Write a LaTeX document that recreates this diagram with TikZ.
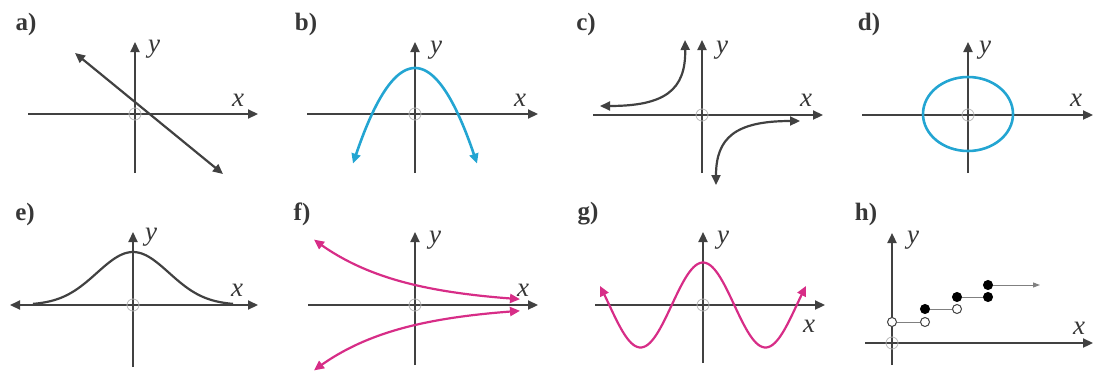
\documentclass[tikz,border=0pt]{standalone}
\usepackage{fontspec}
\setmainfont{Liberation Serif}
\usetikzlibrary{arrows.meta}
\definecolor{axisgray}{RGB}{65,65,65}
\definecolor{labgray}{RGB}{55,55,55}
\definecolor{cyanc}{RGB}{35,165,210}
\definecolor{pinkc}{RGB}{215,45,135}
\begin{document}
\begin{tikzpicture}[x=1pt,y=-1pt,
  tip/.style={-{Triangle[length=10pt,width=9pt]}},
  dtip/.style={{Triangle[length=10pt,width=9pt]}-{Triangle[length=10pt,width=9pt]}},
  axisline/.style={draw=axisgray, line width=2.2pt},
  curveblack/.style={draw=axisgray, line width=2.2pt},
  curvecyan/.style={draw=cyanc, line width=2.6pt},
  curvepink/.style={draw=pinkc, line width=2.2pt},
  orig/.style={draw=gray!55, line width=0.8pt, circle, minimum size=12pt, inner sep=0pt},
  panellab/.style={text=labgray, font=\fontsize{25}{25}\selectfont\bfseries},
  axlab/.style={text=labgray, font=\fontsize{27}{27}\selectfont\itshape},
  opendot/.style={circle, draw=axisgray, fill=white, line width=1pt, minimum size=9pt, inner sep=0pt},
  filldot/.style={circle, draw=black, fill=black, line width=1pt, minimum size=9pt, inner sep=0pt},
  stepline/.style={draw=gray, line width=1pt}]
\useasboundingbox (0,0) rectangle (1097,383);

% ---------- a)
\node[panellab] (la) at (26,24) {a)};
\draw[axisline,tip] (28,114) -- (258,114);
\draw[axisline,tip] (135,173) -- (135,42);
\node[orig] (oa) at (135,114) {};
\node[axlab] (ya) at (154,49) {y};
\node[axlab] (xa) at (238,100) {x};
\draw[curveblack,dtip] (75,53) -- (223,174);

% ---------- b)
\node[panellab] (lb) at (306,24) {b)};
\draw[axisline,tip] (307,114) -- (538,114);
\draw[axisline,tip] (415,173) -- (415,42);
\node[orig] (ob) at (415,114) {};
\node[axlab] (yb) at (436,50) {y};
\node[axlab] (xb) at (520,100) {x};
\draw[curvecyan,dtip] plot[domain=-62:62,samples=60] ({415+\x},{68+46*(\x/43)^2});

% ---------- c)
\node[panellab] (lc) at (586,24) {c)};
\draw[axisline,tip] (593,115) -- (823,115);
\draw[axisline,tip] (702,173) -- (702,40);
\node[orig] (oc) at (702,115) {};
\node[axlab] (yc) at (722,50) {y};
\node[axlab] (xc) at (806,100) {x};
\draw[curveblack,dtip] (685,40) .. controls (686,90) and (665,106) .. (600,106);
\draw[curveblack,dtip] (716,185) .. controls (716,138) and (735,121) .. (800,121);

% ---------- d)
\node[panellab] (ld) at (869,24) {d)};
\draw[axisline,tip] (862,115) -- (1093,115);
\draw[axisline,tip] (968,173) -- (968,42);
\node[orig] (od) at (968,115) {};
\node[axlab] (yd) at (985,50) {y};
\node[axlab] (xd) at (1076,100) {x};
\draw[curvecyan] (968,114) ellipse (45 and 37);

% ---------- e)
\node[panellab] (le) at (25,214) {e)};
\draw[axisline,dtip] (10,305) -- (258,305);
\draw[axisline,tip] (133,367) -- (133,232);
\node[orig] (oe) at (133,305) {};
\node[axlab] (ye) at (151,237) {y};
\node[axlab] (xe) at (237,290) {x};
\draw[curveblack] plot[domain=-100:100,samples=80] ({133+\x},{305-53*exp(-(\x/51)^2)});

% ---------- f)
\node[panellab] (lf) at (302,214) {f)};
\draw[axisline,tip] (308,305) -- (538,305);
\draw[axisline,tip] (415,365) -- (415,232);
\node[orig] (of) at (415,305) {};
\node[axlab] (yf) at (435,240) {y};
\node[axlab] (xf) at (523,290) {x};
\draw[curvepink,dtip] plot[domain=-101:105,samples=60] ({415+\x},{305-20*exp(-0.01174*\x)});
\draw[curvepink,dtip] plot[domain=-101:105,samples=60] ({415+\x},{305+20*exp(-0.01174*\x)});

% ---------- g)
\node[panellab] (lg) at (588,214) {g)};
\draw[axisline,tip] (595,305) -- (825,305);
\draw[axisline,tip] (703,363) -- (703,232);
\node[orig] (og) at (703,305) {};
\node[axlab] (yg) at (723,240) {y};
\node[axlab] (xg) at (809,326) {x};
\draw[curvepink,dtip] plot[domain=-103:103,samples=100] ({703+\x},{305-42.5*cos(2.88*\x)});

% ---------- h)
\node[panellab] (lh) at (866,214) {h)};
\draw[axisline,tip] (865,343) -- (1093,343);
\draw[axisline,tip] (892,365) -- (892,233);
\node[orig] (oh) at (892,343) {};
\node[axlab] (yh) at (913,240) {y};
\node[axlab] (xh) at (1079,328) {x};
\node[opendot] (h1) at (892,322) {};
\node[opendot] (h2) at (925,322) {};
\node[filldot] (h3) at (925,309) {};
\node[opendot] (h4) at (957,309) {};
\node[filldot] (h5) at (957,297) {};
\node[filldot] (h6) at (988,297) {};
\node[filldot] (h7) at (988,285) {};
\coordinate (h8) at (1040,285);
\draw[stepline] (h1) -- (h2);
\draw[stepline] (h3) -- (h4);
\draw[stepline] (h5) -- (h6);
\draw[stepline,-{Triangle[length=7pt,width=5pt]}] (h7) -- (h8);
\end{tikzpicture}
\end{document}
